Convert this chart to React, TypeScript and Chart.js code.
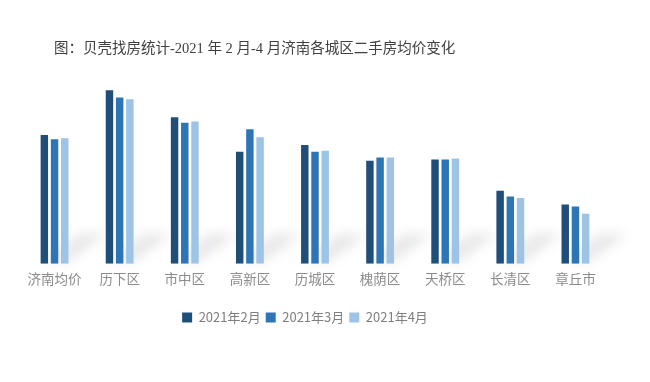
import React, { useEffect, useRef } from "react";
import { Chart, registerables } from "chart.js";

Chart.register(...registerables);

const titleText = "图：贝壳找房统计-2021 年 2 月-4 月济南各城区二手房均价变化";
const categories = ["济南均价", "历下区", "市中区", "高新区", "历城区", "槐荫区", "天桥区", "长清区", "章丘市"];
const seriesNames = ["2021年2月", "2021年3月", "2021年4月"];
const feb = [15960, 21500, 18160, 13880, 14710, 12750, 12910, 9040, 7340];
const mar = [15410, 20590, 17460, 16660, 13880, 13160, 12910, 8340, 7090];
const apr = [15540, 20380, 17630, 15660, 14000, 13160, 13040, 8160, 6210];
const colors = ["#1F4E79", "#2E75B6", "#9DC3E6"];

const titlePlugin = {
  id: "leftTitle",
  afterDraw(chart: any) {
    const ctx = chart.ctx;
    ctx.save();
    ctx.font = "14.5px 'Liberation Serif', 'Noto Sans CJK SC', serif";
    ctx.fillStyle = "#404040";
    ctx.textBaseline = "middle";
    ctx.textAlign = "left";
    ctx.fillText(titleText, 54, 49);
    ctx.restore();
  },
};

const shadowPlugin = {
  id: "groupShadow",
  beforeDatasetsDraw(chart: any) {
    const ctx = chart.ctx;
    const first = chart.getDatasetMeta(0).data;
    const last = chart.getDatasetMeta(2).data;
    const base = chart.scales.y.getPixelForValue(0);
    ctx.save();
    ctx.filter = "blur(6px)";
    ctx.fillStyle = "rgba(0,0,0,0.09)";
    for (let i = 0; i < first.length; i++) {
      const l = first[i].x - first[i].width / 2;
      const r = last[i].x + last[i].width / 2;
      ctx.beginPath();
      ctx.moveTo(l + 4, base - 2);
      ctx.lineTo(r, base - 2);
      ctx.lineTo(r + 38, base - 30);
      ctx.lineTo(r + 10, base - 30);
      ctx.closePath();
      ctx.fill();
    }
    ctx.restore();
  },
};

export default function App() {
  const ref = useRef<HTMLCanvasElement | null>(null);
  useEffect(() => {
    if (!ref.current) return;
    const data = [feb, mar, apr];
    const chart = new Chart(ref.current, {
      type: "bar",
      data: {
        labels: categories,
        datasets: seriesNames.map((n, i) => ({
          label: n,
          data: data[i],
          backgroundColor: colors[i],
          borderWidth: 0,
          categoryPercentage: 0.47,
          barPercentage: 0.73,
        })),
      },
      options: {
        animation: false,
        responsive: false,
        maintainAspectRatio: false,
        layout: { padding: { top: 70, left: 2, right: 42, bottom: 48 } },
        scales: {
          x: {
            grid: { display: false, drawTicks: false },
            border: { display: false },
            ticks: {
              color: "#8c8c8c",
              font: { size: 13.5, family: "'Noto Sans CJK SC', sans-serif" },
              padding: 7,
            },
            afterFit: (scale: any) => {
              scale.height += 12;
            },
          },
          y: {
            display: true,
            min: 0,
            max: 24000,
            grid: { display: false, drawTicks: false },
            border: { display: false },
            ticks: { display: false },
            afterFit: (scale: any) => {
              scale.width = 20;
            },
          },
        },
        plugins: {
          title: { display: false },
          tooltip: { enabled: false },
          legend: {
            position: "bottom",
            labels: {
              boxWidth: 10,
              boxHeight: 10,
              padding: 5,
              color: "#7f7f7f",
              font: { size: 13, family: "'Noto Sans CJK SC', sans-serif" },
            },
          },
        },
      },
      plugins: [shadowPlugin, titlePlugin],
    });
    return () => chart.destroy();
  }, []);
  return (
    <div style={{ position: "fixed", left: 0, top: 0, width: 650, height: 382, background: "#fff" }}>
      <canvas ref={ref} width={650} height={382} />
    </div>
  );
}
